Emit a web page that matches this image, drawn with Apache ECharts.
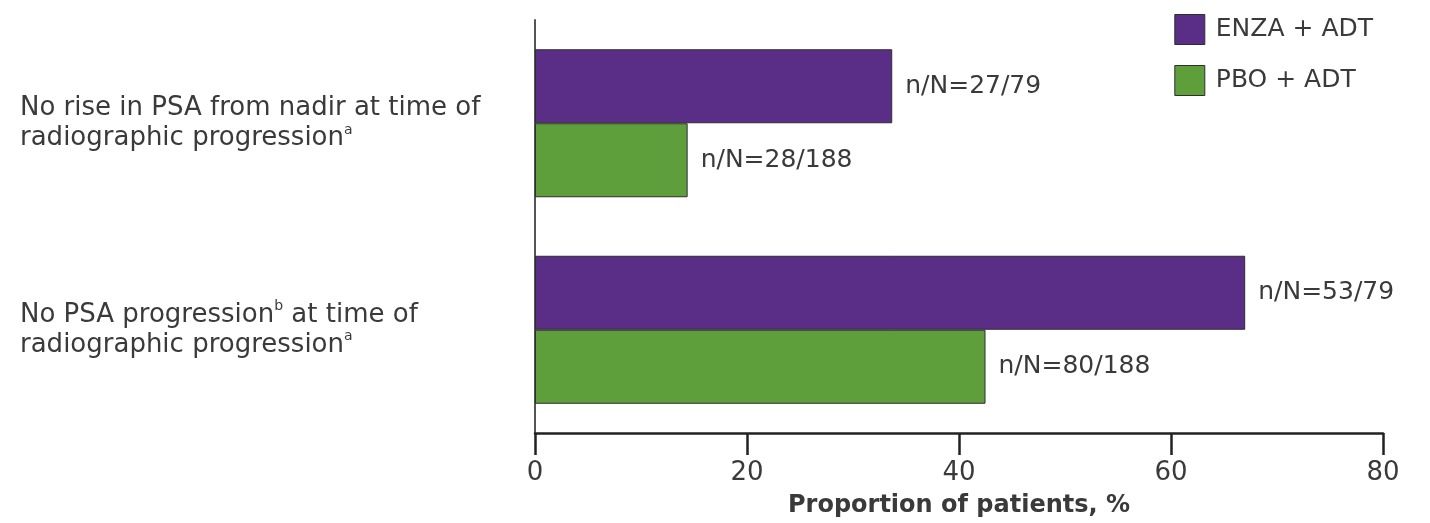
<!DOCTYPE html>
<html>
<head>
<meta charset="utf-8">
<script src="https://cdn.jsdelivr.net/npm/echarts@6/dist/echarts.min.js"></script>
<style>
  html, body { margin: 0; padding: 0; background: #ffffff; }
  #chart { width: 1430px; height: 523px; }
</style>
</head>
<body>
<div id="chart"></div>
<script>
// Outcome categories (top to bottom); superscript footnote marks are rich-text tokens
const categories = [
  'No rise in PSA from nadir at time of\nradiographic progression{sup|a}',
  'No PSA progression{sup|b} at time of\nradiographic progression{sup|a}'
];
const seriesNames = ['ENZA + ADT', 'PBO + ADT'];
// Proportion of patients, %
const enzaValues = [33.7, 67.0];
const pboValues = [14.4, 42.5];
// n/N counts shown beside the bars
const enzaLabels = ['n/N=27/79', 'n/N=53/79'];
const pboLabels = ['n/N=28/188', 'n/N=80/188'];
const xTicks = [0, 20, 40, 60, 80];

const FONT = 'DejaVu Sans';
const TEXT = '#3a3a3a';
const PURPLE = '#5a2d86';
const GREEN = '#5e9f3c';

const chart = echarts.init(document.getElementById('chart'), null, { renderer: 'canvas' });

function barSeries(name, values, labels, color) {
  return {
    name: name,
    type: 'bar',
    barWidth: 74,
    barGap: '0%',
    data: values.map((v, i) => ({ value: v, labelText: labels[i] })),
    itemStyle: { color: color, borderColor: '#2e2e2e', borderWidth: 1 },
    label: {
      show: true,
      position: 'right',
      distance: 13,
      fontFamily: FONT,
      fontSize: 25,
      color: TEXT,
      formatter: p => p.data.labelText
    }
  };
}

chart.setOption({
  animation: false,
  backgroundColor: '#ffffff',
  textStyle: { fontFamily: FONT },
  grid: { left: 535, right: 47, top: 20, bottom: 90, containLabel: false, outerBoundsMode: 'none' },
  legend: {
    orient: 'vertical',
    right: 52,
    top: 9,
    itemWidth: 30,
    itemHeight: 30,
    itemGap: 20,
    icon: 'rect',
    itemStyle: { borderColor: '#2e2e2e', borderWidth: 1 },
    textStyle: { fontFamily: FONT, fontSize: 25, color: TEXT, padding: [0, 0, 0, 6] },
    data: seriesNames
  },
  xAxis: {
    type: 'value',
    min: xTicks[0],
    max: xTicks[xTicks.length - 1],
    interval: 20,
    name: 'Proportion of patients, %',
    nameLocation: 'middle',
    nameGap: 61,
    nameTextStyle: { fontFamily: FONT, fontSize: 24, fontWeight: 'bold', color: TEXT },
    axisLine: { show: true, lineStyle: { color: '#222222', width: 2.5 } },
    axisTick: { show: true, length: 22, lineStyle: { color: '#222222', width: 2.5 } },
    axisLabel: { fontFamily: FONT, fontSize: 26, color: TEXT, margin: 27 },
    splitLine: { show: false }
  },
  yAxis: {
    type: 'category',
    inverse: true,
    data: categories,
    axisLine: { show: true, lineStyle: { color: '#555555', width: 2 } },
    axisTick: { show: false },
    axisLabel: {
      align: 'left',
      margin: 515,
      fontFamily: FONT,
      fontSize: 26,
      lineHeight: 30,
      color: TEXT,
      rich: {
        sup: { fontSize: 14, verticalAlign: 'top', color: TEXT, fontFamily: FONT, lineHeight: 24 }
      }
    }
  },
  series: [
    barSeries(seriesNames[0], enzaValues, enzaLabels, PURPLE),
    barSeries(seriesNames[1], pboValues, pboLabels, GREEN)
  ]
});
</script>
</body>
</html>
